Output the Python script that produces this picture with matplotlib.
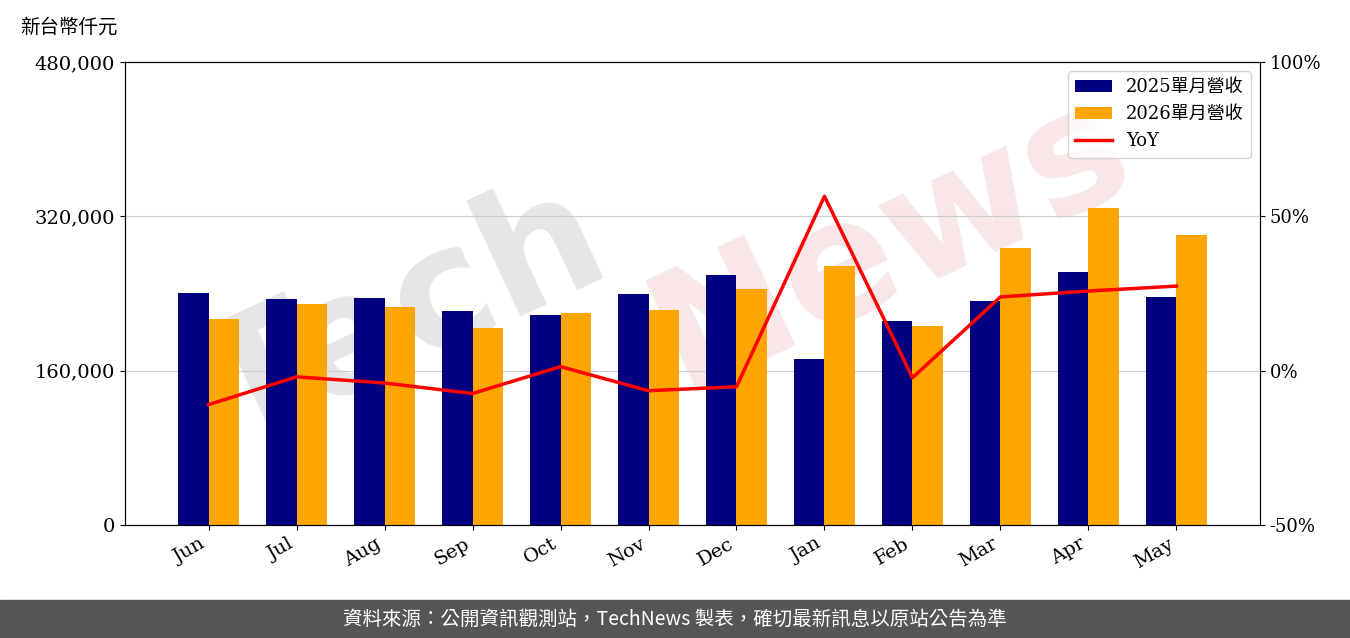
import matplotlib
matplotlib.use("Agg")
import matplotlib.pyplot as plt
import numpy as np
from matplotlib.ticker import FuncFormatter

months = ["Jun","Jul","Aug","Sep","Oct","Nov","Dec","Jan","Feb","Mar","Apr","May"]
rev2025 = [240500,234300,235300,221800,217700,239500,259200,172100,211500,232200,262300,236400]
rev2026 = [213600,229100,226000,204200,219800,222900,244700,268500,206300,287200,328600,300600]
yoy = [-11.0,-2.0,-4.0,-7.4,1.3,-6.5,-5.2,56.5,-2.3,23.9,25.8,27.4]

plt.rcParams['font.family'] = ['DejaVu Serif', 'Noto Sans CJK TC']
fig = plt.figure(figsize=(13.5,6.38), dpi=100)
ax = fig.add_axes([125/1350, 1-525/638, 1135/1350, 463/638])
ax.patch.set_alpha(0)
x = np.arange(len(months))
w = 0.35
ax.bar(x-w/2, rev2025, w, color='#000080', label='2025單月營收', zorder=2)
ax.bar(x+w/2, rev2026, w, color='#FFA500', label='2026單月營收', zorder=2)
ax.set_ylim(0,480000)
ax.set_yticks([0,160000,320000,480000])
ax.yaxis.set_major_formatter(FuncFormatter(lambda v,p: f"{int(v):,}"))
ax.grid(axis='y', color='#cccccc', zorder=0)
ax.set_xlim(-0.95, 11.95)
ax.set_xticks(x)
ax.set_xticklabels(months, rotation=30, ha='right')
ax.tick_params(labelsize=14)
ax2 = ax.twinx()
ax2.plot(x, yoy, color='red', lw=2.5, label='YoY')
ax2.set_ylim(-50,100)
ax2.set_yticks([-50,0,50,100])
ax2.yaxis.set_major_formatter(FuncFormatter(lambda v,p: f"{int(v)}%"))
ax2.tick_params(labelsize=13)
h1,l1 = ax.get_legend_handles_labels()
h2,l2 = ax2.get_legend_handles_labels()
ax2.legend(h1+h2, l1+l2, loc='upper right', prop={'family':['DejaVu Serif','Noto Sans CJK TC'],'size':13})
fig.text(0.30, 0.50, 'Tech', fontsize=120, color='#e6e6e6', rotation=25, fontweight='bold',
         ha='center', va='center', family='DejaVu Sans', zorder=-1)
fig.text(0.66, 0.62, 'News', fontsize=120, color='#f9e6e6', rotation=25, fontweight='bold',
         ha='center', va='center', family='DejaVu Sans', zorder=-1)
fig.text(20/1350, 1-27/638, '新台幣仟元', fontsize=14, family='Noto Sans CJK TC', va='center')
fig.patches.append(plt.Rectangle((0,0),1,38/638, transform=fig.transFigure, color='#555555'))
fig.text(0.5, 19/638, '資料來源：公開資訊觀測站，TechNews 製表，確切最新訊息以原站公告為準',
         color='white', fontsize=14, family='Noto Sans CJK TC', ha='center', va='center')
fig.savefig('out.png')
